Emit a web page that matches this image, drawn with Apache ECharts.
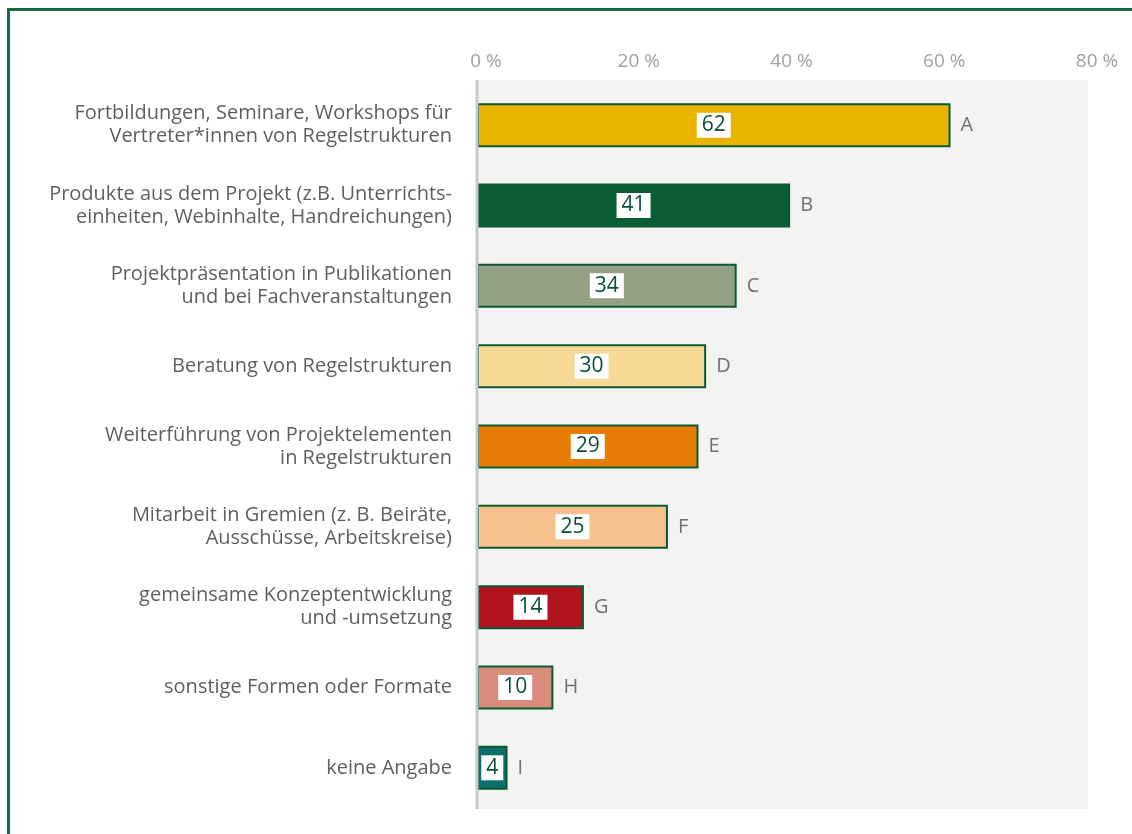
<!DOCTYPE html>
<html>
<head>
<meta charset="utf-8">
<script src="https://cdn.jsdelivr.net/npm/echarts@6/dist/echarts.min.js"></script>
<style>
  html, body { margin: 0; padding: 0; background: #fff; }
  #frame {
    position: absolute; left: 7px; top: 8px; width: 1125px; height: 826px;
    border-left: 3px solid #176b3c; border-top: 3px solid #176b3c;
    box-sizing: border-box;
  }
  #chart { position: absolute; left: 0; top: 0; width: 1132px; height: 834px; }
</style>
</head>
<body>
<div id="frame"></div>
<div id="chart"></div>
<script>
var categories = [
    'Fortbildungen, Seminare, Workshops für\nVertreter*innen von Regelstrukturen',
    'Produkte aus dem Projekt (z.B. Unterrichts-\neinheiten, Webinhalte, Handreichungen)',
    'Projektpräsentation in Publikationen\nund bei Fachveranstaltungen',
    'Beratung von Regelstrukturen',
    'Weiterführung von Projektelementen\nin Regelstrukturen',
    'Mitarbeit in Gremien (z. B. Beiräte,\nAusschüsse, Arbeitskreise)',
    'gemeinsame Konzeptentwicklung\nund -umsetzung',
    'sonstige Formen oder Formate',
    'keine Angabe'
];
var values = [62, 41, 34, 30, 29, 25, 14, 10, 4];
var letters = ['A', 'B', 'C', 'D', 'E', 'F', 'G', 'H', 'I'];
var colors = ['#e8b400', '#0b5e34', '#94a184', '#f5d995', '#e87d05', '#f7c18d', '#b0141d', '#d98c7b', '#0b6e6f'];

var font = '"Open Sans", sans-serif';

var option = {
    animation: false,
    graphic: [
        {
            type: 'rect', z: -10, silent: true,
            shape: { x: 477, y: 80, width: 611, height: 729 },
            style: { fill: '#f3f3f1' }
        },
        {
            type: 'line', z: 10, silent: true,
            shape: { x1: 477, y1: 80, x2: 477, y2: 809 },
            style: { stroke: '#c8c8c8', lineWidth: 3 }
        }
    ],
    grid: {
        left: 477, right: 44, top: 85, bottom: 26
    },
    xAxis: {
        type: 'value',
        position: 'top',
        min: 0, max: 80, interval: 20,
        splitLine: { show: false },
        axisLine: { show: false },
        axisTick: { show: false },
        axisLabel: {
            color: '#a0a0a0', fontSize: 19, fontFamily: font, margin: 14,
            padding: [0, 0, 0, 18],
            formatter: function (v) { return v + ' %'; }
        }
    },
    yAxis: {
        type: 'category',
        data: categories,
        inverse: true,
        axisLine: { show: false },
        axisTick: { show: false },
        axisLabel: {
            color: '#5f5f5f', fontSize: 20, fontFamily: font,
            lineHeight: 23, align: 'right', margin: 25
        }
    },
    series: [
        {
            type: 'bar',
            barWidth: 44,
            data: values.map(function (v, i) {
                return { value: v, itemStyle: { color: colors[i] } };
            }),
            itemStyle: { borderColor: '#0c5a32', borderWidth: 2 },
            label: {
                show: true, position: 'inside',
                color: '#0b5032', fontSize: 21, fontFamily: font,
                backgroundColor: '#ffffff', padding: [3, 5, 1, 5]
            },
            z: 3
        },
        {
            type: 'bar',
            barWidth: 44,
            barGap: '-100%',
            silent: true,
            data: values,
            itemStyle: { color: 'rgba(0,0,0,0)' },
            label: {
                show: true, position: 'right', distance: 10,
                color: '#707070', fontSize: 20, fontFamily: font,
                formatter: function (p) { return letters[p.dataIndex]; }
            },
            z: 2
        }
    ]
};

var myChart = echarts.init(document.getElementById('chart'));
myChart.setOption(option);
</script>
</body>
</html>
